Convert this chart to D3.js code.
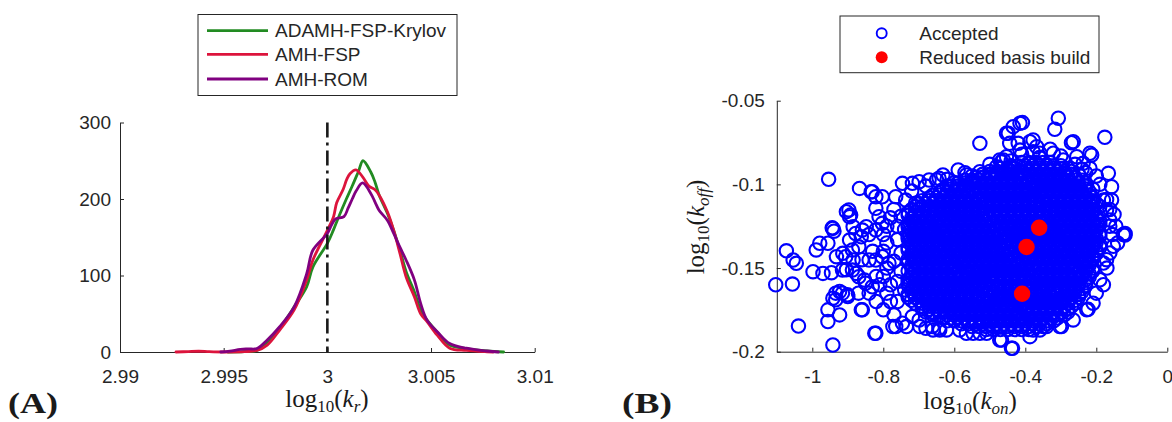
<!DOCTYPE html>
<html>
<head>
<meta charset="utf-8">
<script src="https://cdn.jsdelivr.net/npm/d3@7"></script>
<style>
  body { margin: 0; background: #fff; }
  svg { display: block; }
  .tick text, .leg text { font-family: "Liberation Sans", Arial, Helvetica, sans-serif; fill: #262626; }
  .lab { font-family: "Liberation Serif", "Times New Roman", serif; fill: #1a1a1a; }
</style>
</head>
<body>
<svg id="fig" width="1172" height="422"></svg>
<script>
// ---------- Panel A: posterior densities of log10(k_r) ----------
const seriesNames = ["ADAMH-FSP-Krylov", "AMH-FSP", "AMH-ROM"];
const seriesColors = ["#228B22", "#DC143C", "#800080"];

const krylovCurve = [
  [2.9952, 0], [2.9960, 0.5], [2.9966, 2], [2.9971, 12], [2.9977, 31], [2.9984, 59],
  [2.9990, 85], [2.9993, 111], [3.0000, 142], [3.0003, 160], [3.0006, 180], [3.0009, 199],
  [3.0012, 217], [3.0015, 236], [3.00172, 250], [3.0021, 235], [3.0023, 222], [3.0025, 205],
  [3.0029, 181], [3.0032, 159], [3.0035, 133], [3.0038, 105], [3.0042, 78.6], [3.0045, 55],
  [3.0048, 42], [3.0053, 26], [3.0059, 9], [3.0067, 4.5], [3.0077, 1.3], [3.0085, 0]
];
const fspCurve = [
  [2.9927, 0], [2.9933, 0.6], [2.9938, 1], [2.9943, 0.4], [2.9950, 0], [2.9960, 0.5],
  [2.9966, 2], [2.9971, 9], [2.9977, 28.7], [2.9984, 55], [2.9990, 94], [2.9993, 120],
  [3.0000, 159], [3.0003, 177], [3.00045, 195], [3.00077, 213], [3.00094, 226], [3.00109, 233],
  [3.00138, 238], [3.0017, 229], [3.0020, 217], [3.0023, 212], [3.0025, 205], [3.0029, 183],
  [3.0032, 159], [3.0035, 129], [3.0038, 98], [3.0042, 72], [3.0045, 50], [3.0048, 40],
  [3.0053, 22], [3.0059, 5], [3.0067, 2], [3.0077, 0.3], [3.0080, 0]
];
const romCurve = [
  [2.99486, 0], [2.9953, 1], [2.9958, 3.5], [2.9962, 4], [2.9966, 4.5], [2.9971, 15.7],
  [2.9977, 33], [2.9984, 59], [2.9990, 102], [2.9993, 133], [3.0000, 155], [3.0002, 166],
  [3.0004, 174], [3.0008, 177], [3.0010, 188], [3.0012, 200], [3.0014, 211], [3.0017, 221],
  [3.0021, 207], [3.0023, 196], [3.0025, 185], [3.0029, 172], [3.0032, 155], [3.0035, 137],
  [3.0038, 120], [3.0042, 94], [3.0045, 63.5], [3.0048, 42], [3.0053, 26.5], [3.0059, 11],
  [3.0067, 5], [3.0077, 1.3], [3.00825, 0]
];
const trueLogKr = 3;

const xTicksA = [2.99, 2.995, 3, 3.005, 3.01];
const xTickLabelsA = ["2.99", "2.995", "3", "3.005", "3.01"];
const yTicksA = [0, 100, 200, 300];
const yTickLabelsA = ["0", "100", "200", "300"];

// ---------- Panel B: accepted MCMC samples (log10 k_on, log10 k_off) ----------
const acceptedOuter = [
  [-0.954,-0.097],[-1.103,-0.160],[-1.056,-0.1596],[-1.073,-0.1397],[-1.054,-0.1452],[-1.045,-0.1472],
  [-1.039,-0.1847],[-0.942,-0.196],[-0.998,-0.1522],[-0.970,-0.1532],[-0.946,-0.1528],[-0.989,-0.1392],
  [-0.979,-0.1352],[-0.956,-0.1352],[-0.942,-0.1263],[-0.932,-0.1432],[-0.956,-0.175],[-0.956,-0.182],
  [-0.923,-0.178],[-0.942,-0.168],[-0.923,-0.164],[-0.900,-0.167],[-0.904,-0.1163],[-0.895,-0.1193],
  [-0.867,-0.1024],[-0.834,-0.1044],[-0.862,-0.175],[-0.824,-0.189],[-0.904,-0.151],[-0.885,-0.1452],
  [-0.885,-0.1253],[-0.895,-0.1333],[-0.914,-0.1412],[-0.876,-0.1532],[-0.853,-0.1572],[-0.862,-0.1313],
  [-0.848,-0.1253],[-0.944,-0.126],[-0.939,-0.128],[-0.897,-0.1153],[-0.892,-0.1183],[-0.831,-0.1044],
  [-0.821,-0.1074],[-0.803,-0.1074],[-0.934,-0.165],[-0.915,-0.165],[-0.901,-0.166],[-0.934,-0.169],
  [-0.859,-0.175],[-0.821,-0.189],[-0.765,-0.185],[-0.746,-0.183],[-0.718,-0.179],[-0.699,-0.181],
  [-0.680,-0.186],[-0.662,-0.185],[-0.643,-0.186],[-0.746,-0.0994],[-0.718,-0.0994],[-0.699,-0.0984],
  [-0.671,-0.0974],[-0.643,-0.0964],[-0.765,-0.1074],[-0.737,-0.1094],[-0.709,-0.1113],[-0.821,-0.1143],
  [-0.812,-0.1193],[-0.803,-0.1233],[-0.821,-0.1273],[-0.859,-0.1273],[-0.878,-0.1293],[-0.887,-0.1392],
  [-0.869,-0.1373],[-0.906,-0.1432],[-0.915,-0.1512],[-0.887,-0.1512],[-0.869,-0.1552],[-0.840,-0.1452],
  [-0.821,-0.1452],[-0.803,-0.1432],[-0.784,-0.1472],[-0.850,-0.1591],[-0.831,-0.1612],
  [-0.80,-0.130],[-0.79,-0.135],[-0.80,-0.140],[-0.79,-0.150],[-0.80,-0.155],[-0.78,-0.160],
  [-0.79,-0.165],[-0.78,-0.170],[-0.80,-0.175],[-0.77,-0.178],[-0.81,-0.160],[-0.82,-0.170],
  [-0.78,-0.120],[-0.77,-0.115],[-0.76,-0.125],[-0.79,-0.125],[-0.84,-0.165],[-0.83,-0.140],
  [-0.84,-0.130],[-0.82,-0.155],[-0.86,-0.145],[-0.87,-0.165],
  [-0.76,-0.133],[-0.75,-0.141],[-0.77,-0.146],[-0.75,-0.152],[-0.76,-0.158],[-0.74,-0.163],
  [-0.75,-0.119],[-0.74,-0.127],[-0.76,-0.170],
  [-0.528,-0.0755],[-0.448,-0.0695],[-0.434,-0.0655],[-0.408,-0.0631],[-0.307,-0.0605],[-0.317,-0.0671],
  [-0.176,-0.0719],[-0.270,-0.0751],[-0.213,-0.0825],[-0.218,-0.0904],[-0.166,-0.0934],[-0.157,-0.1014],
  [-0.157,-0.1094],[-0.119,-0.1293],[-0.420,-0.0755],[-0.387,-0.0745],[-0.368,-0.0775],[-0.378,-0.0805],
  [-0.359,-0.0814],[-0.321,-0.0814],[-0.293,-0.0854],[-0.255,-0.0835],[-0.237,-0.0874],[-0.453,-0.0835],
  [-0.467,-0.0865],[-0.481,-0.0894],[-0.472,-0.0854],[-0.528,-0.0924],[-0.589,-0.0914],[-0.632,-0.0944],
  [-0.650,-0.0974],[-0.566,-0.0944],[-0.180,-0.1094],[-0.171,-0.1153],[-0.162,-0.1213],[-0.444,-0.0755],
  [-0.415,-0.0795],[-0.265,-0.0745],[-0.415,-0.0635],[-0.453,-0.0695],[-0.462,-0.0854],[-0.378,-0.0735],
  [-0.55,-0.095],[-0.60,-0.099],[-0.62,-0.101],[-0.20,-0.095],[-0.19,-0.100],[-0.23,-0.093],
  [-0.50,-0.088],[-0.44,-0.086],[-0.30,-0.083],[-0.26,-0.088],[-0.33,-0.079],[-0.41,-0.082],
  [-0.36,-0.084],[-0.24,-0.091],[-0.57,-0.093],[-0.62,-0.097],[-0.68,-0.101],[-0.72,-0.104],
  [-0.119,-0.1303],[-0.223,-0.1747],[-0.298,-0.185],[-0.436,-0.198],[-0.472,-0.193],[-0.509,-0.189],
  [-0.547,-0.189],[-0.585,-0.187],[-0.622,-0.187],[-0.660,-0.187],[-0.697,-0.185],[-0.735,-0.185],
  [-0.773,-0.185],[-0.378,-0.187],[-0.340,-0.185],[-0.265,-0.181],[-0.209,-0.171],[-0.190,-0.157],
  [-0.171,-0.145],[-0.152,-0.137],[-0.162,-0.125],[-0.162,-0.115],[-0.171,-0.109],[-0.218,-0.0814],
  [-0.439,-0.198],[-0.467,-0.193],[-0.387,-0.191],[-0.359,-0.187],[-0.303,-0.185],[-0.227,-0.175],
  [-0.180,-0.147],[-0.124,-0.130],[-0.162,-0.141],[-0.641,-0.187],[-0.566,-0.189],[-0.528,-0.189],
  [-0.150,-0.118],[-0.145,-0.125],[-0.140,-0.135],[-0.155,-0.130],[-0.170,-0.150],[-0.180,-0.160],
  [-0.200,-0.165]
];

// dense central part of the sample cloud, one row per log10(k_off) level
const acceptedCoreRows = [
  [-0.0870, [-0.41,-0.39,-0.37,-0.35,-0.33]],
  [-0.0888, [-0.44,-0.42,-0.40,-0.38,-0.36,-0.34,-0.32,-0.30]],
  [-0.0905, [-0.47,-0.45,-0.43,-0.40,-0.38,-0.36,-0.34,-0.32,-0.30,-0.28]],
  [-0.0923, [-0.50,-0.48,-0.46,-0.44,-0.42,-0.41,-0.39,-0.37,-0.35,-0.33,-0.31,-0.29,-0.27]],
  [-0.0940, [-0.52,-0.50,-0.48,-0.46,-0.44,-0.42,-0.39,-0.37,-0.35,-0.33,-0.31,-0.29,-0.27,-0.25]],
  [-0.0958, [-0.54,-0.52,-0.50,-0.48,-0.46,-0.44,-0.42,-0.40,-0.38,-0.36,-0.34,-0.32,-0.30,-0.28,-0.26]],
  [-0.0975, [-0.57,-0.55,-0.53,-0.51,-0.49,-0.47,-0.45,-0.43,-0.41,-0.38,-0.36,-0.34,-0.32,-0.30,-0.28,-0.26,-0.24]],
  [-0.0993, [-0.59,-0.57,-0.55,-0.53,-0.51,-0.49,-0.47,-0.45,-0.43,-0.41,-0.39,-0.37,-0.35,-0.33,-0.31,-0.29,-0.27,-0.25,-0.23]],
  [-0.1010, [-0.61,-0.59,-0.57,-0.54,-0.52,-0.50,-0.48,-0.46,-0.44,-0.42,-0.40,-0.37,-0.35,-0.33,-0.31,-0.29,-0.27,-0.25,-0.23]],
  [-0.1028, [-0.63,-0.61,-0.59,-0.57,-0.55,-0.53,-0.51,-0.49,-0.47,-0.45,-0.43,-0.41,-0.39,-0.37,-0.35,-0.33,-0.31,-0.29,-0.27,-0.25,-0.23,-0.21]],
  [-0.1045, [-0.64,-0.62,-0.60,-0.58,-0.56,-0.53,-0.51,-0.49,-0.47,-0.45,-0.43,-0.41,-0.39,-0.36,-0.34,-0.32,-0.30,-0.28,-0.26,-0.24,-0.22]],
  [-0.1063, [-0.66,-0.64,-0.62,-0.60,-0.58,-0.56,-0.54,-0.52,-0.50,-0.48,-0.46,-0.44,-0.42,-0.40,-0.38,-0.36,-0.34,-0.32,-0.30,-0.28,-0.26,-0.24,-0.22]],
  [-0.1080, [-0.67,-0.65,-0.63,-0.61,-0.59,-0.57,-0.55,-0.52,-0.50,-0.48,-0.46,-0.44,-0.42,-0.40,-0.38,-0.35,-0.33,-0.31,-0.29,-0.27,-0.25,-0.23,-0.21]],
  [-0.1098, [-0.69,-0.67,-0.65,-0.63,-0.61,-0.59,-0.57,-0.55,-0.53,-0.51,-0.49,-0.47,-0.45,-0.43,-0.41,-0.39,-0.37,-0.35,-0.33,-0.31,-0.29,-0.27,-0.25,-0.23,-0.21]],
  [-0.1115, [-0.70,-0.68,-0.66,-0.64,-0.62,-0.60,-0.58,-0.56,-0.54,-0.51,-0.49,-0.47,-0.45,-0.43,-0.41,-0.39,-0.37,-0.34,-0.32,-0.30,-0.28,-0.26,-0.24,-0.22,-0.20]],
  [-0.1133, [-0.71,-0.69,-0.67,-0.65,-0.63,-0.61,-0.59,-0.57,-0.55,-0.53,-0.51,-0.49,-0.47,-0.45,-0.43,-0.41,-0.39,-0.37,-0.35,-0.33,-0.31,-0.29,-0.27,-0.25,-0.23,-0.21,-0.19]],
  [-0.1150, [-0.72,-0.70,-0.67,-0.65,-0.63,-0.61,-0.59,-0.57,-0.55,-0.53,-0.50,-0.48,-0.46,-0.44,-0.42,-0.40,-0.38,-0.36,-0.33,-0.31,-0.29,-0.27,-0.25,-0.23,-0.21]],
  [-0.1168, [-0.73,-0.71,-0.69,-0.67,-0.65,-0.63,-0.61,-0.59,-0.57,-0.55,-0.53,-0.51,-0.49,-0.47,-0.45,-0.43,-0.41,-0.39,-0.37,-0.35,-0.33,-0.31,-0.29,-0.27,-0.25,-0.23,-0.21,-0.19]],
  [-0.1185, [-0.73,-0.71,-0.69,-0.66,-0.64,-0.62,-0.60,-0.58,-0.56,-0.54,-0.52,-0.49,-0.47,-0.45,-0.43,-0.41,-0.39,-0.37,-0.35,-0.32,-0.30,-0.28,-0.26,-0.24,-0.22,-0.20]],
  [-0.1203, [-0.72,-0.70,-0.68,-0.66,-0.64,-0.62,-0.60,-0.58,-0.56,-0.54,-0.52,-0.50,-0.48,-0.46,-0.44,-0.42,-0.40,-0.38,-0.36,-0.34,-0.32,-0.30,-0.28,-0.26,-0.24,-0.22,-0.20]],
  [-0.1220, [-0.72,-0.70,-0.68,-0.65,-0.63,-0.61,-0.59,-0.57,-0.55,-0.53,-0.51,-0.48,-0.46,-0.44,-0.42,-0.40,-0.38,-0.36,-0.34,-0.31,-0.29,-0.27,-0.25,-0.23,-0.21,-0.19]],
  [-0.1238, [-0.73,-0.71,-0.69,-0.67,-0.65,-0.63,-0.61,-0.59,-0.57,-0.55,-0.53,-0.51,-0.49,-0.47,-0.45,-0.43,-0.41,-0.39,-0.37,-0.35,-0.33,-0.31,-0.29,-0.27,-0.25,-0.23,-0.21,-0.19]],
  [-0.1255, [-0.73,-0.71,-0.69,-0.67,-0.64,-0.62,-0.60,-0.58,-0.56,-0.54,-0.52,-0.50,-0.47,-0.45,-0.43,-0.41,-0.39,-0.37,-0.35,-0.33,-0.30,-0.28,-0.26,-0.24,-0.22,-0.20]],
  [-0.1273, [-0.72,-0.70,-0.68,-0.66,-0.64,-0.62,-0.60,-0.58,-0.56,-0.54,-0.52,-0.50,-0.48,-0.46,-0.44,-0.42,-0.40,-0.38,-0.36,-0.34,-0.32,-0.30,-0.28,-0.26,-0.24,-0.22,-0.20]],
  [-0.1290, [-0.72,-0.70,-0.68,-0.66,-0.63,-0.61,-0.59,-0.57,-0.55,-0.53,-0.51,-0.49,-0.46,-0.44,-0.42,-0.40,-0.38,-0.36,-0.34,-0.32,-0.29,-0.27,-0.25,-0.23,-0.21,-0.19]],
  [-0.1308, [-0.73,-0.71,-0.69,-0.67,-0.65,-0.63,-0.61,-0.59,-0.57,-0.55,-0.53,-0.51,-0.49,-0.47,-0.45,-0.43,-0.41,-0.39,-0.37,-0.35,-0.33,-0.31,-0.29,-0.27,-0.25,-0.23,-0.21,-0.19]],
  [-0.1325, [-0.73,-0.71,-0.69,-0.67,-0.65,-0.62,-0.60,-0.58,-0.56,-0.54,-0.52,-0.50,-0.48,-0.45,-0.43,-0.41,-0.39,-0.37,-0.35,-0.33,-0.31,-0.28,-0.26,-0.24,-0.22,-0.20]],
  [-0.1343, [-0.72,-0.70,-0.68,-0.66,-0.64,-0.62,-0.60,-0.58,-0.56,-0.54,-0.52,-0.50,-0.48,-0.46,-0.44,-0.42,-0.40,-0.38,-0.36,-0.34,-0.32,-0.30,-0.28,-0.26,-0.24,-0.22,-0.20]],
  [-0.1360, [-0.72,-0.70,-0.68,-0.66,-0.64,-0.61,-0.59,-0.57,-0.55,-0.53,-0.51,-0.49,-0.47,-0.44,-0.42,-0.40,-0.38,-0.36,-0.34,-0.32,-0.30,-0.27,-0.25,-0.23,-0.21,-0.19]],
  [-0.1378, [-0.73,-0.71,-0.69,-0.67,-0.65,-0.63,-0.61,-0.59,-0.57,-0.55,-0.53,-0.51,-0.49,-0.47,-0.45,-0.43,-0.41,-0.39,-0.37,-0.35,-0.33,-0.31,-0.29,-0.27,-0.25,-0.23,-0.21,-0.19]],
  [-0.1395, [-0.73,-0.71,-0.69,-0.67,-0.65,-0.63,-0.60,-0.58,-0.56,-0.54,-0.52,-0.50,-0.48,-0.46,-0.43,-0.41,-0.39,-0.37,-0.35,-0.33,-0.31,-0.29,-0.26,-0.24,-0.22,-0.20]],
  [-0.1413, [-0.72,-0.70,-0.68,-0.66,-0.64,-0.62,-0.60,-0.58,-0.56,-0.54,-0.52,-0.50,-0.48,-0.46,-0.44,-0.42,-0.40,-0.38,-0.36,-0.34,-0.32,-0.30,-0.28,-0.26,-0.24,-0.22,-0.20]],
  [-0.1430, [-0.72,-0.70,-0.68,-0.66,-0.64,-0.62,-0.59,-0.57,-0.55,-0.53,-0.51,-0.49,-0.47,-0.45,-0.42,-0.40,-0.38,-0.36,-0.34,-0.32,-0.30,-0.28,-0.25,-0.23,-0.21]],
  [-0.1448, [-0.73,-0.71,-0.69,-0.67,-0.65,-0.63,-0.61,-0.59,-0.57,-0.55,-0.53,-0.51,-0.49,-0.47,-0.45,-0.43,-0.41,-0.39,-0.37,-0.35,-0.33,-0.31,-0.29,-0.27,-0.25,-0.23,-0.21]],
  [-0.1465, [-0.73,-0.71,-0.69,-0.67,-0.65,-0.63,-0.61,-0.58,-0.56,-0.54,-0.52,-0.50,-0.48,-0.46,-0.44,-0.41,-0.39,-0.37,-0.35,-0.33,-0.31,-0.29,-0.27,-0.24,-0.22]],
  [-0.1483, [-0.72,-0.70,-0.68,-0.66,-0.64,-0.62,-0.60,-0.58,-0.56,-0.54,-0.52,-0.50,-0.48,-0.46,-0.44,-0.42,-0.40,-0.38,-0.36,-0.34,-0.32,-0.30,-0.28,-0.26,-0.24,-0.22]],
  [-0.1500, [-0.72,-0.70,-0.68,-0.66,-0.64,-0.62,-0.60,-0.57,-0.55,-0.53,-0.51,-0.49,-0.47,-0.45,-0.43,-0.40,-0.38,-0.36,-0.34,-0.32,-0.30,-0.28,-0.26,-0.23,-0.21]],
  [-0.1518, [-0.73,-0.71,-0.69,-0.67,-0.65,-0.63,-0.61,-0.59,-0.57,-0.55,-0.53,-0.51,-0.49,-0.47,-0.45,-0.43,-0.41,-0.39,-0.37,-0.35,-0.33,-0.31,-0.29,-0.27,-0.25,-0.23,-0.21]],
  [-0.1535, [-0.72,-0.70,-0.68,-0.66,-0.64,-0.62,-0.60,-0.58,-0.56,-0.53,-0.51,-0.49,-0.47,-0.45,-0.43,-0.41,-0.39,-0.36,-0.34,-0.32,-0.30,-0.28,-0.26,-0.24,-0.22]],
  [-0.1553, [-0.72,-0.70,-0.68,-0.66,-0.64,-0.62,-0.60,-0.58,-0.56,-0.54,-0.52,-0.50,-0.48,-0.46,-0.44,-0.42,-0.40,-0.38,-0.36,-0.34,-0.32,-0.30,-0.28,-0.26,-0.24,-0.22]],
  [-0.1570, [-0.73,-0.71,-0.69,-0.67,-0.65,-0.63,-0.61,-0.59,-0.57,-0.54,-0.52,-0.50,-0.48,-0.46,-0.44,-0.42,-0.40,-0.37,-0.35,-0.33,-0.31,-0.29,-0.27,-0.25,-0.23]],
  [-0.1588, [-0.73,-0.71,-0.69,-0.67,-0.65,-0.63,-0.61,-0.59,-0.57,-0.55,-0.53,-0.51,-0.49,-0.47,-0.45,-0.43,-0.41,-0.39,-0.37,-0.35,-0.33,-0.31,-0.29,-0.27,-0.25,-0.23]],
  [-0.1605, [-0.73,-0.71,-0.69,-0.67,-0.65,-0.63,-0.61,-0.59,-0.57,-0.55,-0.53,-0.51,-0.48,-0.46,-0.44,-0.42,-0.40,-0.38,-0.36,-0.34,-0.31,-0.29,-0.27,-0.25,-0.23]],
  [-0.1623, [-0.72,-0.70,-0.68,-0.66,-0.64,-0.62,-0.60,-0.58,-0.56,-0.54,-0.52,-0.50,-0.48,-0.46,-0.44,-0.42,-0.40,-0.38,-0.36,-0.34,-0.32,-0.30,-0.28,-0.26,-0.24]],
  [-0.1640, [-0.72,-0.70,-0.68,-0.66,-0.64,-0.62,-0.60,-0.58,-0.56,-0.54,-0.52,-0.49,-0.47,-0.45,-0.43,-0.41,-0.39,-0.37,-0.35,-0.32,-0.30,-0.28,-0.26,-0.24]],
  [-0.1658, [-0.73,-0.71,-0.69,-0.67,-0.65,-0.63,-0.61,-0.59,-0.57,-0.55,-0.53,-0.51,-0.49,-0.47,-0.45,-0.43,-0.41,-0.39,-0.37,-0.35,-0.33,-0.31,-0.29,-0.27,-0.25]],
  [-0.1675, [-0.73,-0.71,-0.69,-0.67,-0.65,-0.63,-0.61,-0.59,-0.57,-0.55,-0.53,-0.50,-0.48,-0.46,-0.44,-0.42,-0.40,-0.38,-0.36,-0.34,-0.32,-0.29,-0.27,-0.25]],
  [-0.1693, [-0.72,-0.70,-0.68,-0.66,-0.64,-0.62,-0.60,-0.58,-0.56,-0.54,-0.52,-0.50,-0.48,-0.46,-0.44,-0.42,-0.40,-0.38,-0.36,-0.34,-0.32,-0.30,-0.28,-0.26]],
  [-0.1710, [-0.71,-0.69,-0.67,-0.65,-0.63,-0.61,-0.59,-0.57,-0.55,-0.53,-0.51,-0.49,-0.46,-0.44,-0.42,-0.40,-0.38,-0.36,-0.34,-0.32,-0.30,-0.28,-0.26]],
  [-0.1728, [-0.69,-0.67,-0.65,-0.63,-0.61,-0.59,-0.57,-0.55,-0.53,-0.51,-0.49,-0.47,-0.45,-0.43,-0.41,-0.39,-0.37,-0.35,-0.33,-0.31,-0.29,-0.27]],
  [-0.1745, [-0.69,-0.67,-0.65,-0.63,-0.61,-0.59,-0.57,-0.55,-0.53,-0.51,-0.49,-0.47,-0.45,-0.43,-0.40,-0.38,-0.36,-0.34,-0.32,-0.30,-0.28]],
  [-0.1763, [-0.68,-0.66,-0.64,-0.62,-0.60,-0.58,-0.56,-0.54,-0.52,-0.50,-0.48,-0.46,-0.44,-0.42,-0.40,-0.38,-0.36,-0.34,-0.32,-0.30,-0.28]],
  [-0.1780, [-0.66,-0.64,-0.62,-0.60,-0.58,-0.56,-0.54,-0.52,-0.50,-0.48,-0.46,-0.44,-0.42,-0.39,-0.37,-0.35,-0.33,-0.31,-0.29]],
  [-0.1798, [-0.63,-0.61,-0.59,-0.57,-0.55,-0.53,-0.51,-0.49,-0.47,-0.45,-0.43,-0.41,-0.39,-0.37,-0.35,-0.33,-0.31]],
  [-0.1815, [-0.62,-0.60,-0.58,-0.56,-0.54,-0.52,-0.50,-0.48,-0.46,-0.44,-0.42,-0.40,-0.38,-0.36,-0.34,-0.32]],
  [-0.1833, [-0.58,-0.56,-0.54,-0.52,-0.50,-0.48,-0.46,-0.44,-0.42,-0.40,-0.38,-0.36,-0.34]],
  [-0.1850, [-0.55,-0.53,-0.51,-0.49,-0.47,-0.45,-0.43,-0.41,-0.39,-0.37,-0.35]],
  [-0.1868, [-0.51,-0.49,-0.47,-0.45,-0.43,-0.41,-0.39]]
];

// samples at which the reduced basis was (re)built
const rbKon = [-0.361, -0.3965, -0.409];
const rbKoff = [-0.1259, -0.1374, -0.1654];

const xTicksB = [-1, -0.8, -0.6, -0.4, -0.2, 0];
const xTickLabelsB = ["-1", "-0.8", "-0.6", "-0.4", "-0.2", "0"];
const yTicksB = [-0.2, -0.15, -0.1, -0.05];
const yTickLabelsB = ["-0.2", "-0.15", "-0.1", "-0.05"];

// ---------- drawing ----------
const svg = d3.select("#fig");
const axisColor = "#262626";

function styleAxis(g) {
  g.select(".domain").attr("stroke", axisColor).attr("stroke-width", 1);
  g.selectAll(".tick line").attr("stroke", axisColor).attr("stroke-width", 1);
  g.selectAll(".tick text").attr("font-size", 19).attr("fill", axisColor);
}

function mathLabel(parent, x, y, sub, rotate) {
  const t = parent.append("text").attr("class", "lab")
    .attr("font-size", 25).attr("text-anchor", "middle")
    .attr("transform", `translate(${x},${y})` + (rotate ? " rotate(-90)" : ""));
  t.append("tspan").text("log");
  t.append("tspan").attr("font-size", 17).attr("dy", 5).text("10");
  t.append("tspan").attr("dy", -5).text("(");
  t.append("tspan").attr("font-style", "italic").text("k");
  t.append("tspan").attr("font-size", 17).attr("font-style", "italic").attr("dy", 5).text(sub);
  t.append("tspan").attr("dy", -5).text(")");
}

// Panel A
const xA = d3.scaleLinear().domain([2.99, 3.01]).range([120, 534.7]);
const yA = d3.scaleLinear().domain([0, 300]).range([352, 122.5]);

const gAx = svg.append("g").attr("transform", `translate(0,${yA(0)})`)
  .call(d3.axisBottom(xA).tickValues(xTicksA).tickFormat((d, i) => xTickLabelsA[i])
    .tickSizeInner(-4).tickSizeOuter(0).tickPadding(18));
styleAxis(gAx);
const gAy = svg.append("g").attr("transform", `translate(${xA(2.99)},0)`)
  .call(d3.axisLeft(yA).tickValues(yTicksA).tickFormat((d, i) => yTickLabelsA[i])
    .tickSizeInner(-4).tickSizeOuter(0).tickPadding(9));
styleAxis(gAy);

const lineA = d3.line().x(d => xA(d[0])).y(d => yA(d[1])).curve(d3.curveCatmullRom.alpha(0.5));
[krylovCurve, fspCurve, romCurve].forEach((c, i) => {
  svg.append("path").datum(c).attr("d", lineA)
    .attr("fill", "none").attr("stroke", seriesColors[i]).attr("stroke-width", 2.8)
    .attr("stroke-linejoin", "round").attr("stroke-linecap", "round");
});

svg.append("line")
  .attr("x1", xA(trueLogKr)).attr("x2", xA(trueLogKr))
  .attr("y1", yA(300)).attr("y2", yA(0))
  .attr("stroke", "#1a1a1a").attr("stroke-width", 2.6)
  .attr("stroke-dasharray", "15,5,3,5");

// legend A
const legA = svg.append("g").attr("class", "leg");
legA.append("rect").attr("x", 198).attr("y", 14.5).attr("width", 259).attr("height", 81)
  .attr("fill", "#fff").attr("stroke", axisColor).attr("stroke-width", 1);
const legRowsA = [30.6, 54.3, 79];
seriesNames.forEach((n, i) => {
  legA.append("line").attr("x1", 207).attr("x2", 268).attr("y1", legRowsA[i]).attr("y2", legRowsA[i])
    .attr("stroke", seriesColors[i]).attr("stroke-width", 2.8);
  legA.append("text").attr("x", 275).attr("y", legRowsA[i] + 6.8).attr("font-size", 19).text(n);
});

mathLabel(svg, 327, 407, "r", false);

svg.append("text").attr("class", "lab").attr("x", 8).attr("y", 413)
  .attr("font-size", 29).attr("font-weight", "bold")
  .attr("textLength", 50).attr("lengthAdjust", "spacingAndGlyphs").text("(A)");

// Panel B
const xB = d3.scaleLinear().domain([-1.1, 0]).range([776.8, 1167.3]);
const yB = d3.scaleLinear().domain([-0.2, -0.05]).range([351.7, 100.7]);

const gBx = svg.append("g").attr("transform", `translate(0,${yB(-0.2)})`)
  .call(d3.axisBottom(xB).tickValues(xTicksB).tickFormat((d, i) => xTickLabelsB[i])
    .tickSizeInner(-4).tickSizeOuter(0).tickPadding(18));
styleAxis(gBx);
const gBy = svg.append("g").attr("transform", `translate(${xB(-1.1)},0)`)
  .call(d3.axisLeft(yB).tickValues(yTicksB).tickFormat((d, i) => yTickLabelsB[i])
    .tickSizeInner(-4).tickSizeOuter(0).tickPadding(12));
styleAxis(gBy);

const accepted = acceptedOuter.concat(
  acceptedCoreRows.flatMap(([koff, kons]) => kons.map(k => [k, koff]))
);

svg.append("g").selectAll("circle").data(accepted).join("circle")
  .attr("cx", d => xB(d[0])).attr("cy", d => yB(d[1])).attr("r", 6.7)
  .attr("fill", "none").attr("stroke", "#0000ff").attr("stroke-width", 2.1);

svg.append("g").selectAll("circle").data(rbKon.map((k, i) => [k, rbKoff[i]])).join("circle")
  .attr("cx", d => xB(d[0])).attr("cy", d => yB(d[1])).attr("r", 8.2)
  .attr("fill", "#ff0000");

// legend B
const legB = svg.append("g").attr("class", "leg");
legB.append("rect").attr("x", 840).attr("y", 16).attr("width", 259).attr("height", 56.7)
  .attr("fill", "#fff").attr("stroke", axisColor).attr("stroke-width", 1);
legB.append("circle").attr("cx", 881.7).attr("cy", 33.3).attr("r", 5)
  .attr("fill", "none").attr("stroke", "#0000ff").attr("stroke-width", 1.9);
legB.append("circle").attr("cx", 881.7).attr("cy", 57.3).attr("r", 6)
  .attr("fill", "#ff0000");
legB.append("text").attr("x", 919.3).attr("y", 40.1).attr("font-size", 19).text("Accepted");
legB.append("text").attr("x", 919.3).attr("y", 64.1).attr("font-size", 19).text("Reduced basis build");

mathLabel(svg, 970, 409, "on", false);
mathLabel(svg, 704, 227, "off", true);

svg.append("text").attr("class", "lab").attr("x", 622).attr("y", 413)
  .attr("font-size", 29).attr("font-weight", "bold")
  .attr("textLength", 50).attr("lengthAdjust", "spacingAndGlyphs").text("(B)");
</script>
</body>
</html>
